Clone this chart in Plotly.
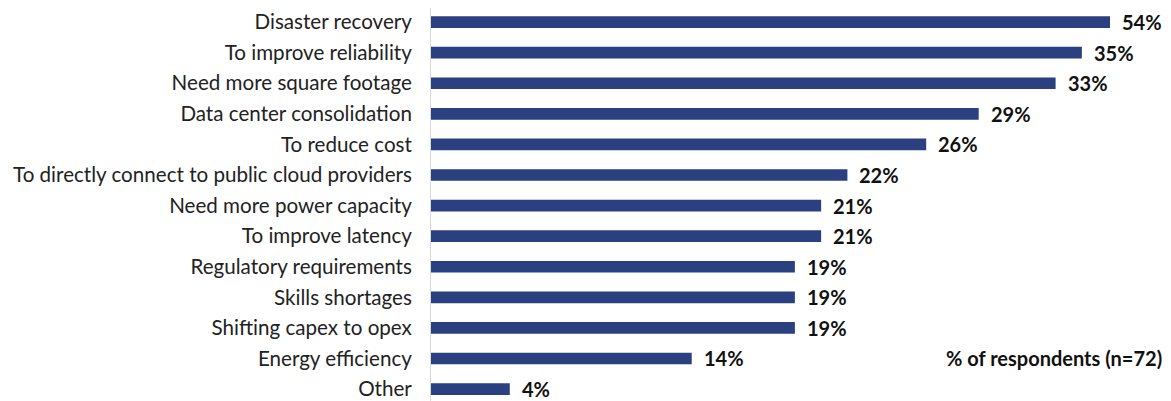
import plotly.graph_objects as go

categories = [
    "Disaster recovery",
    "To improve reliability",
    "Need more square footage",
    "Data center consolidation",
    "To reduce cost",
    "To directly connect to public cloud providers",
    "Need more power capacity",
    "To improve latency",
    "Regulatory requirements",
    "Skills shortages",
    "Shifting capex to opex",
    "Energy efficiency",
    "Other",
]
values = [54.2, 34.7, 33.3, 29.2, 26.4, 22.2, 20.8, 20.8, 19.4, 19.4, 19.4, 13.9, 4.2]
value_labels = [f"{round(v)}%" for v in values]
note_text = "% of respondents (n=72)"

XMAX = 36.2
BAR_COLOR = "#2a4080"
FONT = "Lato"

fig = go.Figure()
fig.add_trace(go.Bar(
    x=values,
    y=categories,
    orientation="h",
    marker=dict(color=BAR_COLOR, line=dict(width=0)),
    width=0.38,
    cliponaxis=True,
    hoverinfo="skip",
))

for cat, v, lab in zip(categories, values, value_labels):
    fig.add_annotation(
        x=min(v, XMAX), y=cat, xref="x", yref="y",
        text=f"<b>{lab}</b>", showarrow=False,
        xanchor="left", yanchor="middle", xshift=10,
        font=dict(family=FONT, size=20, color="#111111"),
    )

fig.add_annotation(
    x=1.0, y=categories[11], xref="paper", yref="y",
    text=f"<b>{note_text}</b>", showarrow=False,
    xanchor="right", yanchor="middle", xshift=54,
    font=dict(family=FONT, size=20, color="#111111"),
)

fig.update_layout(
    width=1163, height=393,
    margin=dict(l=423, r=61, t=0, b=0, pad=0, autoexpand=False),
    plot_bgcolor="white", paper_bgcolor="white",
    showlegend=False,
    font=dict(family=FONT, size=20.6, color="#222222"),
)
fig.update_xaxes(range=[0, XMAX], visible=False, showgrid=False, zeroline=False,
                 automargin=False)
fig.update_yaxes(
    type="category",
    range=[12.39, -0.46],
    automargin=False,
    showline=True, linecolor="#d9d9d9", linewidth=1,
    showgrid=False, zeroline=False,
    ticks="", ticklabelstandoff=14,
    tickfont=dict(family=FONT, size=20.6, color="#222222"),
)

fig.write_html("out.html")
